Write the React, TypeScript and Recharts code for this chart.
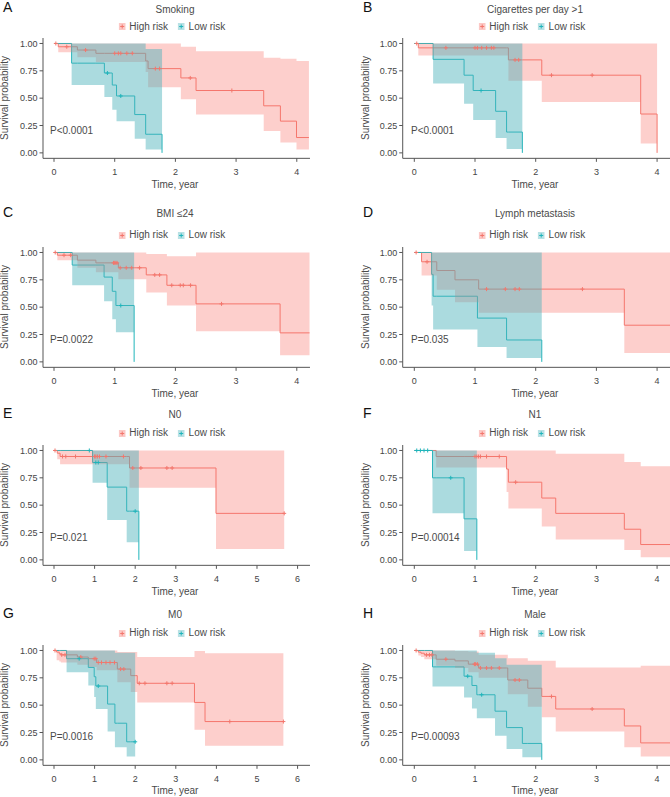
import React from "react";
import { ComposedChart, Line, Area, Scatter, XAxis, YAxis } from "recharts";

const RED = "#F3766C";
const TEAL = "#1FB5BB";
const RED_FILL = "#F8766D";
const TEAL_FILL = "#4DB3BB";

// each row: [time, survival, lower CI, upper CI]; the last row is [end time, survival]
const smokingHigh = [
  [0, 1, 1, 1], [0.07, 0.97, 0.92, 1], [0.385, 0.94, 0.875, 1], [0.69, 0.91, 0.83, 1],
  [1.51, 0.84, 0.74, 1], [1.55, 0.77, 0.6, 1], [2.09, 0.685, 0.49, 0.97], [2.34, 0.57, 0.35, 0.93],
  [3.455, 0.43, 0.2, 0.87], [3.73, 0.29, 0.095, 0.86], [3.995, 0.14, 0.03, 0.84], [4.2, 0.14],
];
const smokingHighCens = [0.03, 0.21, 0.52, 1.0, 1.06, 1.1, 1.2, 1.29, 1.67, 1.74, 2.245, 2.93];
const smokingLow = [
  [0, 1, 1, 1], [0.29, 0.82, 0.62, 1], [0.83, 0.73, 0.51, 1], [0.96, 0.62, 0.395, 1],
  [1.03, 0.52, 0.29, 1], [1.33, 0.35, 0.13, 1], [1.51, 0.17, 0.03, 0.95], [1.78, 0],
];
const smokingLowCens = [0.88, 1.1];

const cigHigh = [
  [0, 1, 1, 1], [0.066, 0.96, 0.89, 1], [1.55, 0.85, 0.66, 1], [2.1, 0.71, 0.465, 1],
  [3.73, 0.355, 0.085, 1], [4.0, 0],
];
const cigHighCens = [0.04, 0.52, 1.0, 1.04, 1.11, 1.19, 1.27, 1.31, 1.66, 1.72, 2.26, 2.93];
const cigLow = [
  [0, 1, 1, 1], [0.31, 0.855, 0.635, 1], [0.82, 0.71, 0.45, 1], [0.97, 0.57, 0.3, 1],
  [1.34, 0.38, 0.135, 1], [1.52, 0.19, 0.035, 1], [1.78, 0],
];
const cigLowCens = [1.1];

const bmiHigh = [
  [0, 1, 1, 1], [0.055, 0.975, 0.93, 1], [0.385, 0.93, 0.86, 1], [0.69, 0.905, 0.82, 1],
  [1.06, 0.86, 0.755, 1], [1.52, 0.795, 0.635, 0.985], [1.86, 0.7, 0.515, 0.965],
  [2.34, 0.53, 0.28, 1], [3.725, 0.265, 0.06, 1], [4.21, 0.265],
];
const bmiHighCens = [
  0.02, 0.165, 0.275, 0.98, 1.0, 1.02, 1.04, 1.09, 1.19, 1.28, 1.41, 1.66, 1.74, 1.94, 2.08, 2.13, 2.25, 2.76,
];
const bmiLow = [
  [0, 1, 1, 1], [0.3, 0.885, 0.7, 1], [0.825, 0.775, 0.555, 1], [0.96, 0.645, 0.39, 1],
  [1.02, 0.515, 0.27, 1], [1.32, 0],
];
const bmiLowCens = [1.1];

const lymphHigh = [
  [0, 1, 1, 1], [0.12, 0.915, 0.79, 1], [0.37, 0.835, 0.66, 1], [0.67, 0.75, 0.545, 1],
  [1.06, 0.665, 0.45, 1], [3.46, 0.335, 0.08, 1], [4.3, 0.335],
];
const lymphHighCens = [0.03, 0.21, 1.19, 1.5, 1.66, 1.73, 2.77];
const lymphLow = [
  [0, 1, 1, 1], [0.285, 0.8, 0.515, 1], [0.31, 0.6, 0.295, 1], [1.04, 0.4, 0.135, 1],
  [1.52, 0.2, 0.035, 1], [2.1, 0],
];
const lymphLowCens: number[] = [];

const n0High = [
  [0, 1, 1, 1], [0.08, 0.975, 0.92, 1], [0.15, 0.945, 0.875, 1], [1.86, 0.84, 0.66, 1],
  [3.99, 0.425, 0.1, 1], [5.67, 0.425],
];
const n0HighCens = [0.025, 0.21, 0.29, 0.53, 1.0, 1.03, 1.07, 1.12, 1.28, 1.71, 1.94, 2.14, 2.78, 2.91, 5.67];
const n0Low = [
  [0, 1, 1, 1], [0.95, 0.89, 0.705, 1], [1.31, 0.665, 0.365, 1], [1.79, 0.445, 0.16, 1], [2.09, 0],
];
const n0LowCens = [0.87, 1.03, 1.09, 2.0];

const n1High = [
  [0, 1, 1, 1], [0.36, 0.945, 0.845, 1], [1.52, 0.83, 0.62, 1], [1.55, 0.71, 0.47, 1],
  [2.1, 0.565, 0.305, 1], [2.33, 0.425, 0.185, 0.97], [3.46, 0.28, 0.09, 0.895],
  [3.73, 0.14, 0.025, 0.855], [4.3, 0.14],
];
const n1HighCens = [1.0, 1.03, 1.06, 1.09, 1.19, 1.4, 1.67];
const n1Low = [[0, 1, 1, 1], [0.3, 0.75, 0.425, 1], [0.82, 0.375, 0.08, 1], [1.03, 0]];
const n1LowCens = [0.04, 0.1, 0.16, 0.22, 0.6];

const m0High = [
  [0, 1, 1, 1], [0.065, 0.985, 0.91, 1], [0.13, 0.97, 0.9, 1], [0.17, 0.96, 0.89, 1],
  [0.575, 0.94, 0.87, 1], [0.845, 0.925, 0.85, 1], [1.05, 0.89, 0.82, 1],
  [1.56, 0.83, 0.71, 0.985], [1.89, 0.77, 0.62, 0.985], [2.05, 0.7, 0.525, 0.94],
  [3.46, 0.525, 0.275, 0.995], [3.72, 0.35, 0.13, 0.975], [5.65, 0.35],
];
const m0HighCens = [
  0.025, 0.19, 0.27, 0.66, 0.99, 1.03, 1.09, 1.17, 1.28, 1.38, 1.49, 1.64, 1.72, 2.1, 2.24, 2.78, 2.91, 4.33, 5.65,
];
const m0Low = [
  [0, 1, 1, 1], [0.31, 0.925, 0.8, 1], [0.845, 0.845, 0.68, 1], [0.99, 0.76, 0.575, 1],
  [1.03, 0.675, 0.465, 1], [1.32, 0.51, 0.26, 1], [1.5, 0.335, 0.115, 0.98],
  [1.79, 0.165, 0.03, 0.98], [2.0, 0.165],
];
const m0LowCens = [0.62, 1.09, 2.0];

const maleHigh = [
  [0, 1, 1, 1], [0.066, 0.985, 0.955, 1], [0.11, 0.975, 0.94, 1], [0.165, 0.96, 0.92, 1],
  [0.36, 0.92, 0.86, 1], [0.67, 0.905, 0.84, 0.995], [0.89, 0.875, 0.8, 0.99],
  [1.06, 0.84, 0.75, 0.96], [1.54, 0.73, 0.6, 0.93], [1.87, 0.655, 0.485, 0.905],
  [2.1, 0.58, 0.39, 0.905], [2.33, 0.465, 0.26, 0.845], [3.46, 0.31, 0.115, 0.845],
  [3.73, 0.155, 0.03, 0.86], [4.3, 0.155],
];
const maleHighCens = [0.03, 0.2, 0.25, 0.29, 0.52, 0.99, 1.01, 1.04, 1.09, 1.19, 1.27, 1.4, 1.66, 1.73, 2.26, 2.93];
const maleLow = [
  [0, 1, 1, 1], [0.3, 0.85, 0.67, 1], [0.82, 0.765, 0.57, 1], [0.95, 0.68, 0.47, 1],
  [1.03, 0.595, 0.38, 0.98], [1.33, 0.445, 0.22, 0.93], [1.52, 0.295, 0.1, 0.87],
  [1.78, 0.15, 0.025, 0.87], [2.1, 0],
];
const maleLowCens = [0.88, 1.11];

const yTicks = [0, 0.25, 0.5, 0.75, 1];
const xTicks4 = [0, 1, 2, 3, 4];
const xTicks6 = [0, 1, 2, 3, 4, 5, 6];

const panels = [
  { letter: "A", title: "Smoking", p: "P<0.0001", high: smokingHigh, highCens: smokingHighCens, low: smokingLow, lowCens: smokingLowCens, ticks: xTicks4, col: 0, row: 0 },
  { letter: "B", title: "Cigarettes per day >1", p: "P<0.0001", high: cigHigh, highCens: cigHighCens, low: cigLow, lowCens: cigLowCens, ticks: xTicks4, col: 1, row: 0 },
  { letter: "C", title: "BMI ≤24", p: "P=0.0022", high: bmiHigh, highCens: bmiHighCens, low: bmiLow, lowCens: bmiLowCens, ticks: xTicks4, col: 0, row: 1 },
  { letter: "D", title: "Lymph metastasis", p: "P=0.035", high: lymphHigh, highCens: lymphHighCens, low: lymphLow, lowCens: lymphLowCens, ticks: xTicks4, col: 1, row: 1 },
  { letter: "E", title: "N0", p: "P=0.021", high: n0High, highCens: n0HighCens, low: n0Low, lowCens: n0LowCens, ticks: xTicks6, col: 0, row: 2 },
  { letter: "F", title: "N1", p: "P=0.00014", high: n1High, highCens: n1HighCens, low: n1Low, lowCens: n1LowCens, ticks: xTicks4, col: 1, row: 2 },
  { letter: "G", title: "M0", p: "P=0.0016", high: m0High, highCens: m0HighCens, low: m0Low, lowCens: m0LowCens, ticks: xTicks6, col: 0, row: 3 },
  { letter: "H", title: "Male", p: "P=0.00093", high: maleHigh, highCens: maleHighCens, low: maleLow, lowCens: maleLowCens, ticks: xTicks4, col: 1, row: 3 },
];

// page layout
const ROWS = [
  { y1: 43.7, title: 10, legend: 26.7, letter: 7 },
  { y1: 252.3, title: 214, legend: 235, letter: 211.5 },
  { y1: 450.7, title: 415, legend: 433.3, letter: 413 },
  { y1: 650, title: 615, legend: 633.3, letter: 613 },
];
const COLS = [
  { left: 0, plotLeft: 43, plotRight: 310, x0: 54, letterX: 3, titleX: 175, legendX: 172, yTitleX: 5, pX: 50 },
  { left: 335, plotLeft: 402.7, plotRight: 680, x0: 414.3, letterX: 363, titleX: 535, legendX: 532, yTitleX: 366, pX: 411 },
];
const PPU_Y = 109.4;
const FONT = "'Liberation Sans', Arial, Helvetica, sans-serif";
const TEXT = "#4a4a4a";

const rowAt = (rows: number[][], t: number) => {
  let i = 0;
  for (let k = 0; k < rows.length; k++) if (rows[k][0] <= t) i = k;
  return i;
};

const pick = (prefix: string, rows: number[][], t: number) => {
  const end = rows[rows.length - 1][0];
  if (t > end) return {};
  const i = rowAt(rows, t);
  const j = Math.min(i, rows.length - 2);
  return { [prefix + "s"]: rows[i][1], [prefix + "b"]: [rows[j][2], rows[j][3]] };
};

const buildTable = (high: number[][], low: number[][]) => {
  const times = Array.from(new Set([...high, ...low].map((r) => r[0]))).sort((a, b) => a - b);
  return times.map((t) => ({ t, ...pick("h", high, t), ...pick("l", low, t) }));
};

const censorPoints = (rows: number[][], cens: number[]) =>
  cens.map((c) => ({ t: c, s: rows[rowAt(rows, c)][1] }));

const plus = (color: string) => (props: any) => {
  const { cx, cy } = props;
  if (cx == null || cy == null) return <g />;
  return <path d={`M${cx - 2},${cy}h4M${cx},${cy - 2}v4`} stroke={color} strokeWidth={1} fill="none" />;
};

const Key = ({ color, fill }: { color: string; fill: string }) => (
  <svg width={7} height={7} style={{ display: "block" }}>
    <rect width={7} height={7} fill={fill} fillOpacity={0.4} />
    <path d="M1.5,3.5h4M3.5,1.5v4" stroke={color} strokeWidth={1} />
  </svg>
);

const centered = (x: number, y: number, extra: React.CSSProperties = {}): React.CSSProperties => ({
  position: "absolute",
  left: x,
  top: y,
  transform: "translate(-50%, -50%)",
  whiteSpace: "nowrap",
  lineHeight: 1,
  fontWeight: 400,
  ...extra,
});

const Panel = ({ panel }: { panel: (typeof panels)[number] }) => {
  const c = COLS[panel.col];
  const r = ROWS[panel.row];
  const span = panel.ticks[panel.ticks.length - 1];
  const ppuX = span === 6 ? 40.6 : 60.7;
  const domain = [(c.plotLeft - c.x0) / ppuX, (c.plotRight - c.x0) / ppuX];
  const plotTop = r.y1 - 0.05 * PPU_Y;
  const plotH = 1.1 * PPU_Y;
  const y0 = r.y1 + PPU_Y;
  const data = buildTable(panel.high, panel.low);
  const highPts = censorPoints(panel.high, panel.highCens);
  const lowPts = censorPoints(panel.low, panel.lowCens);
  const axisStyle = { fill: "#444", fontSize: 9, fontFamily: FONT };

  return (
    <>
      <div style={{ position: "absolute", left: c.letterX, top: r.letter, transform: "translateY(-50%)", fontSize: 14, lineHeight: 1, color: "#111" }}>
        {panel.letter}
      </div>
      <div style={centered(c.titleX, r.title, { fontSize: 10, color: TEXT })}>{panel.title}</div>
      <div style={centered(c.legendX, r.legend, { display: "flex", alignItems: "center", fontSize: 10, color: TEXT })}>
        <Key color={RED} fill={RED_FILL} />
        <span style={{ marginLeft: 3.5, marginRight: 10 }}>High risk</span>
        <Key color={TEAL} fill={TEAL_FILL} />
        <span style={{ marginLeft: 3.5 }}>Low risk</span>
      </div>
      <div style={{ position: "absolute", left: c.left, top: plotTop }}>
        <ComposedChart
          width={c.plotRight - c.left}
          height={plotH + 30}
          data={data}
          margin={{ top: 0, right: 0, bottom: 0, left: 0 }}
        >
          <XAxis
            dataKey="t"
            type="number"
            domain={domain}
            ticks={panel.ticks}
            allowDataOverflow
            interval={0}
            height={30}
            tickSize={3.5}
            tickMargin={7}
            stroke="#555"
            tick={axisStyle}
          />
          <YAxis
            type="number"
            domain={[-0.05, 1.05]}
            ticks={yTicks}
            allowDataOverflow
            interval={0}
            width={c.plotLeft - c.left}
            tickSize={3.5}
            tickMargin={2}
            tickFormatter={(v: number) => v.toFixed(2)}
            stroke="#555"
            tick={axisStyle}
          />
          <Line dataKey="hs" type="stepAfter" stroke={RED} strokeWidth={1} dot={false} activeDot={false} isAnimationActive={false} />
          <Line dataKey="ls" type="stepAfter" stroke={TEAL} strokeWidth={1} dot={false} activeDot={false} isAnimationActive={false} />
          <Area dataKey="hb" type="stepAfter" stroke="none" fill={RED_FILL} fillOpacity={0.35} isAnimationActive={false} zIndex={450} />
          <Area dataKey="lb" type="stepAfter" stroke="none" fill={TEAL_FILL} fillOpacity={0.47} isAnimationActive={false} zIndex={450} />
          <Scatter data={highPts} dataKey="s" shape={plus(RED)} isAnimationActive={false} />
          <Scatter data={lowPts} dataKey="s" shape={plus(TEAL)} isAnimationActive={false} />
        </ComposedChart>
      </div>
      <div style={centered(c.pX, y0 - 22, { transform: "translateY(-50%)", fontSize: 10, color: TEXT })}>{panel.p}</div>
      <div style={centered(c.yTitleX, (r.y1 + y0) / 2, { transform: "translate(-50%, -50%) rotate(-90deg)", fontSize: 10, color: TEXT })}>
        Survival probability
      </div>
      <div style={centered(c.titleX, y0 + 32, { fontSize: 10, color: TEXT })}>Time, year</div>
    </>
  );
};

export default function App() {
  return (
    <div
      style={{
        position: "absolute",
        left: 0,
        top: 0,
        width: 670,
        height: 797,
        overflow: "hidden",
        background: "#fff",
        fontFamily: FONT,
      }}
    >
      {panels.map((p) => (
        <Panel key={p.letter} panel={p} />
      ))}
    </div>
  );
}
